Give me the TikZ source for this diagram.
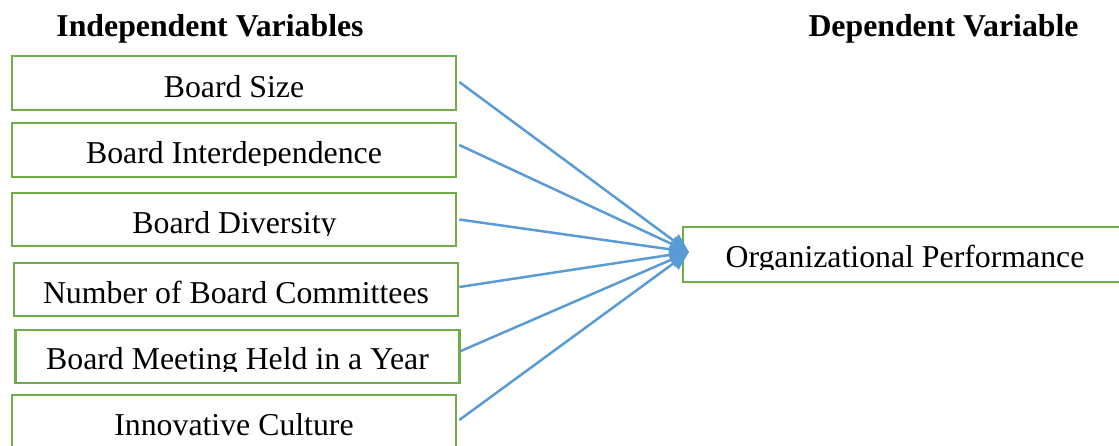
\documentclass[tikz,border=0pt]{standalone}
\usepackage{fontspec}
\setmainfont{Liberation Serif}
\usetikzlibrary{arrows.meta}
\definecolor{boxgreen}{HTML}{70AD47}
\definecolor{linkblue}{HTML}{5B9BD5}
\tikzset{
  varbox/.style={draw=boxgreen, line width=1.3pt, minimum width=222pt, inner sep=0pt},
  lbl/.style={anchor=base, inner sep=0pt, font=\fontsize{15.9pt}{19pt}\selectfont},
  heading/.style={anchor=base, inner sep=0pt, font=\fontsize{15.9pt}{19pt}\selectfont\bfseries},
  link/.style={draw=linkblue, line width=1.25pt, -{Triangle[length=9.5pt,width=8pt]}},
}
% clipped label: name, box, x, baseline y, text (text is cut just below the baseline)
\newcommand{\cutlabel}[5]{%
  \begin{scope}
    \clip ([xshift=-1pt]#2.north west) rectangle ([xshift=40pt]#2.east |- 0,#4+2);
    \node[lbl] (#1) at (#3,#4) {#5};
  \end{scope}}
\begin{document}
\begin{tikzpicture}[x=0.5pt, y=-0.5pt]
  \useasboundingbox (0,0) rectangle (1119,445);
  % headings
  \node[heading] (hin) at (210,36.5) {Independent Variables};
  \node[heading] (hdep) at (943.5,36.5) {Dependent Variable};
  % independent variable boxes
  \node[varbox, minimum height=27pt] (b1) at (234,83) {};
  \node[varbox, minimum height=27pt] (b2) at (234,150) {};
  \node[varbox, minimum height=26.5pt] (b3) at (234,219.5) {};
  \node[varbox, minimum height=26.5pt] (b4) at (236,289.5) {};
  \node[varbox, minimum height=26.5pt] (b5) at (237.5,356.5) {};
  \node[varbox, minimum height=27pt] (b6) at (234,422) {};
  % dependent variable box
  \node[varbox, minimum height=27.5pt] (op) at (905,254.5) {};
  % labels
  \cutlabel{t1}{b1}{234}{97}{Board Size}
  \cutlabel{t2}{b2}{234}{163}{Board Interdependence}
  \cutlabel{t3}{b3}{234.5}{233}{Board Diversity}
  \cutlabel{t4}{b4}{236}{303}{Number of Board Committees}
  \cutlabel{t5}{b5}{237.5}{369}{Board Meeting Held in a Year}
  \cutlabel{t6}{b6}{234}{435}{Innovative Culture}
  \begin{scope}
    \clip ([xshift=-1pt]op.north west) rectangle (1119,269);
    \node[lbl] (t7) at (905,267) {Organizational Performance};
  \end{scope}
  % connectors
  \coordinate (tip) at (689,252);
  \draw[link] ([shift={(1pt,0.5pt)}]b1.east) -- (tip);
  \draw[link] ([shift={(1pt,2.5pt)}]b2.east) -- (tip);
  \draw[link] ([shift={(1pt,0pt)}]b3.east) -- (tip);
  \draw[link] ([shift={(0pt,1.25pt)}]b4.east) -- (tip);
  \draw[link] ([shift={(0pt,2.75pt)}]b5.east) -- (tip);
  \draw[link] ([shift={(1pt,1pt)}]b6.east) -- (tip);
\end{tikzpicture}
\end{document}
